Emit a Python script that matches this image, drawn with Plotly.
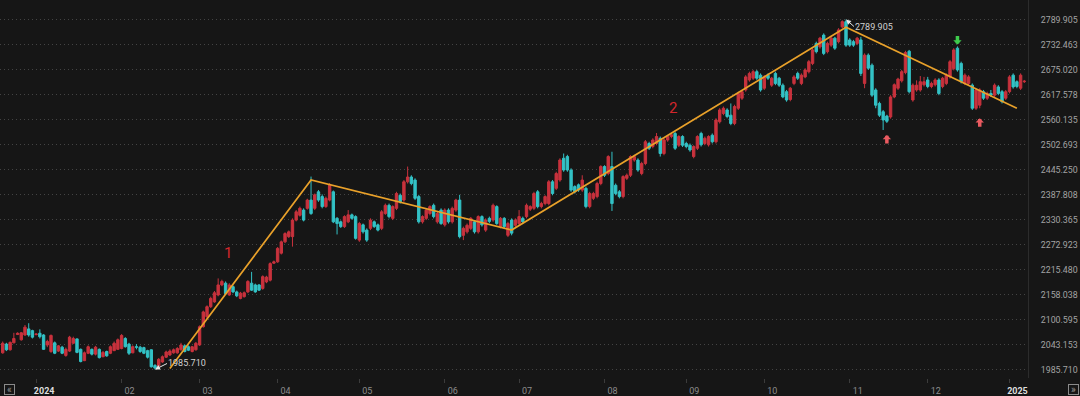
import pandas as pd
import plotly.graph_objects as go

# ---------------- data ----------------
start_date = "2023-12-19"

opens = [
    2024, 2044, 2031, 2047, 2066, 2054, 2065, 2079, 2075, 2066,
    2069, 2065, 2042, 2027, 2047, 2028, 2037, 2018, 2028, 2046,
    2056, 2032, 2006, 2023, 2032, 2021, 2032, 2015, 2027, 2023,
    2029, 2032, 2034, 2057, 2044, 2024, 2038, 2037, 2036, 2029,
    2031, 1995, 1994, 2003, 2014, 2019, 2024, 2024, 2031, 2040,
    2038, 2027, 2031, 2042, 2084, 2107, 2130, 2141, 2157, 2180,
    2184, 2157, 2176, 2164, 2149, 2153, 2164, 2184, 2180, 2180,
    2172, 2187, 2191, 2230, 2233, 2253, 2279, 2291, 2291, 2329,
    2340, 2352, 2356, 2375, 2356, 2394, 2383, 2360, 2375, 2394,
    2333, 2325, 2314, 2325, 2341, 2337, 2283, 2318, 2306, 2310,
    2325, 2318, 2310, 2344, 2363, 2333, 2356, 2386, 2375, 2417,
    2428, 2421, 2383, 2325, 2333, 2344, 2363, 2325, 2352, 2318,
    2352, 2325, 2352, 2375, 2294, 2302, 2310, 2325, 2302, 2337,
    2306, 2333, 2329, 2360, 2314, 2333, 2294, 2329, 2317, 2321,
    2333, 2337, 2354, 2356, 2394, 2360, 2367, 2367, 2417, 2402,
    2421, 2471, 2475, 2444, 2406, 2410, 2398, 2402, 2360, 2379,
    2383, 2413, 2452, 2436, 2452, 2409, 2394, 2383, 2425, 2432,
    2467, 2467, 2436, 2459, 2505, 2498, 2505, 2517, 2482, 2513,
    2521, 2528, 2501, 2521, 2505, 2501, 2475, 2494, 2528, 2505,
    2502, 2524, 2509, 2555, 2574, 2582, 2570, 2551, 2586, 2609,
    2628, 2651, 2655, 2670, 2662, 2632, 2662, 2639, 2666, 2655,
    2639, 2624, 2606, 2643, 2666, 2643, 2658, 2670, 2689, 2735,
    2727, 2754, 2716, 2731, 2747, 2739, 2773, 2785, 2743, 2739,
    2735, 2743, 2643, 2708, 2685, 2628, 2597, 2578, 2568, 2566,
    2612, 2632, 2649, 2668, 2717, 2605, 2628, 2628, 2640, 2651,
    2636, 2640, 2651, 2636, 2643, 2658, 2677, 2724, 2689, 2643,
    2643, 2639, 2586, 2593, 2624, 2609, 2620, 2616, 2635, 2624,
    2609, 2624, 2662, 2647, 2632, 2647,
]

highs = [
    2050, 2047, 2050, 2070, 2071, 2072, 2088, 2092, 2077, 2069,
    2078, 2067, 2054, 2066, 2050, 2042, 2040, 2036, 2063, 2061,
    2057, 2034, 2027, 2041, 2034, 2040, 2034, 2028, 2029, 2041,
    2050, 2057, 2067, 2060, 2047, 2041, 2044, 2040, 2038, 2031,
    2032, 1998, 2012, 2018, 2029, 2032, 2034, 2037, 2047, 2043,
    2041, 2040, 2049, 2087, 2121, 2133, 2153, 2166, 2195, 2192,
    2188, 2184, 2179, 2167, 2164, 2165, 2191, 2210, 2183, 2182,
    2202, 2201, 2232, 2236, 2267, 2282, 2301, 2305, 2333, 2352,
    2360, 2356, 2378, 2429, 2390, 2398, 2388, 2383, 2414, 2397,
    2336, 2328, 2340, 2352, 2344, 2340, 2325, 2321, 2310, 2333,
    2328, 2321, 2352, 2367, 2367, 2363, 2394, 2390, 2421, 2452,
    2432, 2425, 2387, 2340, 2356, 2363, 2367, 2348, 2356, 2356,
    2356, 2360, 2378, 2387, 2314, 2321, 2336, 2329, 2340, 2340,
    2333, 2337, 2367, 2363, 2336, 2336, 2325, 2333, 2333, 2352,
    2337, 2367, 2363, 2394, 2398, 2371, 2386, 2421, 2421, 2440,
    2471, 2482, 2479, 2448, 2409, 2413, 2432, 2406, 2394, 2394,
    2417, 2455, 2455, 2478, 2486, 2413, 2398, 2432, 2436, 2478,
    2479, 2471, 2463, 2513, 2509, 2517, 2529, 2521, 2517, 2524,
    2529, 2532, 2524, 2524, 2509, 2505, 2501, 2524, 2532, 2521,
    2524, 2528, 2563, 2586, 2590, 2586, 2597, 2594, 2624, 2628,
    2662, 2670, 2674, 2674, 2666, 2662, 2666, 2658, 2670, 2658,
    2643, 2628, 2635, 2662, 2670, 2666, 2678, 2697, 2724, 2739,
    2750, 2758, 2739, 2750, 2750, 2770, 2788, 2789.905, 2747, 2743,
    2750, 2750, 2712, 2712, 2689, 2632, 2601, 2582, 2571, 2616,
    2643, 2656, 2674, 2718, 2720, 2643, 2650, 2660, 2658, 2658,
    2647, 2655, 2655, 2658, 2666, 2697, 2724, 2728, 2693, 2666,
    2662, 2643, 2632, 2632, 2628, 2624, 2628, 2643, 2639, 2628,
    2628, 2662, 2666, 2650, 2666, 2651,
]

lows = [
    2022, 2028, 2029, 2046, 2065, 2052, 2063, 2061, 2057, 2064,
    2057, 2031, 2037, 2024, 2021, 2026, 2021, 2015, 2026, 2044,
    2023, 2002, 2005, 2021, 2018, 2018, 2011, 2014, 2015, 2021,
    2028, 2031, 2032, 2036, 2019, 2023, 2032, 2024, 2021, 2011,
    1990, 1985.71, 1992, 2001, 2012, 2017, 2022, 2022, 2029, 2025,
    2028, 2025, 2029, 2040, 2082, 2104, 2127, 2139, 2154, 2177,
    2157, 2155, 2161, 2152, 2147, 2151, 2161, 2166, 2162, 2166,
    2169, 2184, 2188, 2228, 2231, 2250, 2276, 2288, 2268, 2326,
    2337, 2326, 2353, 2341, 2352, 2371, 2356, 2357, 2372, 2322,
    2296, 2311, 2311, 2322, 2330, 2284, 2279, 2298, 2279, 2306,
    2311, 2303, 2306, 2341, 2333, 2329, 2352, 2367, 2371, 2413,
    2409, 2375, 2321, 2321, 2329, 2340, 2333, 2321, 2318, 2314,
    2321, 2321, 2348, 2287, 2283, 2298, 2306, 2298, 2298, 2314,
    2302, 2322, 2325, 2318, 2310, 2310, 2290, 2294, 2313, 2318,
    2321, 2333, 2350, 2352, 2356, 2356, 2363, 2363, 2386, 2398,
    2417, 2440, 2440, 2394, 2390, 2394, 2394, 2356, 2356, 2375,
    2379, 2409, 2428, 2432, 2350, 2386, 2379, 2379, 2421, 2428,
    2463, 2440, 2432, 2455, 2490, 2494, 2501, 2475, 2478, 2509,
    2517, 2490, 2497, 2497, 2494, 2486, 2471, 2490, 2498, 2501,
    2498, 2505, 2505, 2551, 2570, 2563, 2547, 2547, 2582, 2605,
    2624, 2647, 2651, 2651, 2624, 2628, 2651, 2635, 2639, 2635,
    2609, 2601, 2602, 2639, 2651, 2639, 2655, 2666, 2685, 2712,
    2723, 2708, 2712, 2727, 2720, 2735, 2770, 2727, 2727, 2727,
    2731, 2660, 2632, 2674, 2612, 2586, 2566, 2536, 2552, 2562,
    2609, 2628, 2645, 2664, 2620, 2601, 2624, 2624, 2636, 2632,
    2632, 2636, 2616, 2632, 2639, 2654, 2673, 2670, 2643, 2639,
    2639, 2582, 2582, 2586, 2605, 2605, 2612, 2612, 2616, 2597,
    2605, 2620, 2631, 2632, 2628, 2644,
]

closes = [
    2046, 2031, 2048, 2057, 2069, 2070, 2083, 2065, 2060, 2067,
    2061, 2032, 2050, 2064, 2023, 2040, 2023, 2032, 2060, 2057,
    2025, 2004, 2024, 2038, 2021, 2037, 2013, 2025, 2017, 2038,
    2046, 2054, 2064, 2038, 2023, 2038, 2037, 2027, 2023, 2014,
    1992, 1989, 2009, 2015, 2026, 2028, 2031, 2034, 2042, 2027,
    2030, 2038, 2046, 2084, 2118, 2130, 2149, 2162, 2180, 2188,
    2160, 2180, 2164, 2155, 2161, 2162, 2188, 2168, 2164, 2168,
    2199, 2198, 2229, 2233, 2264, 2279, 2298, 2302, 2329, 2348,
    2356, 2329, 2375, 2344, 2387, 2375, 2360, 2379, 2410, 2325,
    2321, 2314, 2337, 2341, 2333, 2287, 2321, 2302, 2283, 2329,
    2314, 2306, 2348, 2363, 2337, 2360, 2390, 2371, 2417, 2428,
    2413, 2379, 2325, 2337, 2352, 2360, 2337, 2344, 2321, 2352,
    2325, 2356, 2375, 2291, 2310, 2317, 2333, 2302, 2337, 2318,
    2329, 2326, 2363, 2321, 2333, 2314, 2321, 2299, 2329, 2337,
    2325, 2363, 2360, 2390, 2360, 2367, 2383, 2417, 2390, 2436,
    2467, 2444, 2444, 2398, 2394, 2398, 2421, 2360, 2390, 2390,
    2413, 2452, 2432, 2475, 2367, 2390, 2383, 2429, 2432, 2475,
    2475, 2444, 2459, 2509, 2494, 2513, 2521, 2482, 2513, 2521,
    2525, 2494, 2521, 2501, 2498, 2490, 2498, 2521, 2502, 2517,
    2521, 2509, 2559, 2582, 2586, 2567, 2551, 2590, 2620, 2624,
    2658, 2666, 2670, 2655, 2628, 2658, 2655, 2655, 2643, 2639,
    2612, 2605, 2632, 2658, 2655, 2662, 2674, 2693, 2720, 2716,
    2747, 2712, 2735, 2747, 2724, 2766, 2785, 2731, 2731, 2731,
    2747, 2666, 2708, 2678, 2616, 2593, 2570, 2559, 2556, 2612,
    2640, 2653, 2670, 2714, 2624, 2639, 2639, 2647, 2647, 2636,
    2643, 2651, 2620, 2655, 2662, 2693, 2720, 2674, 2647, 2662,
    2658, 2586, 2628, 2628, 2609, 2620, 2616, 2639, 2620, 2601,
    2624, 2658, 2635, 2636, 2662, 2648,
]

y_tick_values = [1985.710, 2043.153, 2100.595, 2158.038, 2215.480,
                 2272.923, 2330.365, 2387.808, 2445.250, 2502.693,
                 2560.135, 2617.578, 2675.020, 2732.463, 2789.905]

# zig-zag trend line pivots (candle index, price)
zigzag_idx = [45, 83, 137, 227, 273]
zigzag_val = [1988, 2421, 2306, 2772, 2586]

# wave labels
wave_text = ["1", "2"]
wave_idx = [60.7, 180.5]
wave_val = [2254, 2586]

# signal arrows (candle index)
buy_idx = [238, 263]
buy_standoff = [12, 10]
sell_idx = [257]
sell_standoff = [2]

# ---------------- derived ----------------
n = len(closes)
idx = list(range(n))
dates = pd.bdate_range(start_date, periods=n)

month_idx, month_txt = [], []
for i in range(1, n):
    if dates[i].month != dates[i - 1].month:
        month_idx.append(i)
        if dates[i].month == 1:
            month_txt.append(f"<span style='color:#dedede'><b>{dates[i].year}</b></span>")
        else:
            month_txt.append(f"{dates[i].month:02d}")

RED = "#c8323d"
CYAN = "#33c2c6"
BG = "#161616"
ORANGE = "#e9a12a"

fig = go.Figure()
fig.add_trace(go.Candlestick(
    x=idx, open=opens, high=highs, low=lows, close=closes,
    increasing=dict(line=dict(color=RED, width=1), fillcolor=RED),
    decreasing=dict(line=dict(color=CYAN, width=1), fillcolor=CYAN),
    whiskerwidth=0, hoverinfo="skip", showlegend=False,
))
fig.add_trace(go.Scatter(
    x=zigzag_idx, y=zigzag_val, mode="lines",
    line=dict(color=ORANGE, width=1.7), hoverinfo="skip", showlegend=False,
))

annotations = []
# extreme labels
lo_i = lows.index(min(lows))
hi_i = highs.index(max(highs))
annotations.append(dict(
    x=lo_i, y=lows[lo_i], xref="x", yref="y", text=f"{lows[lo_i]:.3f}",
    showarrow=True, ax=12, ay=-6, xanchor="left", yanchor="middle",
    arrowhead=2, arrowsize=1, arrowwidth=1, arrowcolor="#e6e6e6",
    font=dict(size=9, color="#d2d2d2"), borderpad=0,
))
annotations.append(dict(
    x=hi_i, y=highs[hi_i], xref="x", yref="y", text=f"{highs[hi_i]:.3f}",
    showarrow=True, ax=8, ay=7, xanchor="left", yanchor="middle",
    arrowhead=2, arrowsize=1, arrowwidth=1, arrowcolor="#e6e6e6",
    font=dict(size=9, color="#d2d2d2"), borderpad=0,
))
# wave labels
for t, wi, wv in zip(wave_text, wave_idx, wave_val):
    annotations.append(dict(x=wi, y=wv, xref="x", yref="y", text=t, showarrow=False,
                            font=dict(size=15, color="#d4262c")))
# signal arrows
for bi, so in zip(buy_idx, buy_standoff):
    annotations.append(dict(x=bi, y=lows[bi], xref="x", yref="y", text="",
                            showarrow=True, ax=0, ay=so + 10, standoff=so,
                            arrowhead=1, arrowsize=0.4, arrowwidth=3.5,
                            arrowcolor="#ea5a60"))
for si, so in zip(sell_idx, sell_standoff):
    annotations.append(dict(x=si, y=highs[si], xref="x", yref="y", text="",
                            showarrow=True, ax=0, ay=-(so + 10), standoff=so,
                            arrowhead=1, arrowsize=0.4, arrowwidth=3.5,
                            arrowcolor="#3ecb4c"))
# navigation icons
for px, sym in [(9.5, "«"), (1073, "»")]:
    annotations.append(dict(x=px / 1028, y=-12 / 378, xref="paper", yref="paper",
                            text=sym, showarrow=False, font=dict(size=10, color="#9a9a9a"),
                            bordercolor="#8a8a8a", borderwidth=1, borderpad=0,
                            width=9, height=9, xanchor="center", yanchor="middle"))

fig.update_layout(
    width=1080, height=396,
    margin=dict(l=0, r=52, t=0, b=18),
    paper_bgcolor=BG, plot_bgcolor=BG,
    font=dict(family="Roboto, 'Open Sans', sans-serif"),
    boxgap=0.2, boxgroupgap=0.2,
    showlegend=False,
    annotations=annotations,
)
fig.update_xaxes(
    range=[-0.727, 275.99], tickvals=month_idx, ticktext=month_txt,
    ticks="outside", ticklen=4, tickcolor="#3c3c3c", tickwidth=1,
    showgrid=False, zeroline=False, showline=False,
    rangeslider_visible=False, ticklabelshift=8,
    tickfont=dict(size=9, color="#8c8c8c"),
)
fig.update_yaxes(
    side="right", range=[1966.16, 2834.7],
    tickvals=y_tick_values, ticktext=[f"{v:.3f}" for v in y_tick_values],
    showgrid=True, gridcolor="#444444", griddash="1px,3px", gridwidth=1,
    zeroline=False, showline=True, linecolor="#2c2c2c", linewidth=1,
    ticks="", ticklabelstandoff=10,
    tickfont=dict(size=8.8, color="#a3a3a3"),
)

fig.write_html(
    "out.html",
    config={"displayModeBar": False},
    post_script="document.body.style.margin='0';document.body.style.background='#161616';",
)
